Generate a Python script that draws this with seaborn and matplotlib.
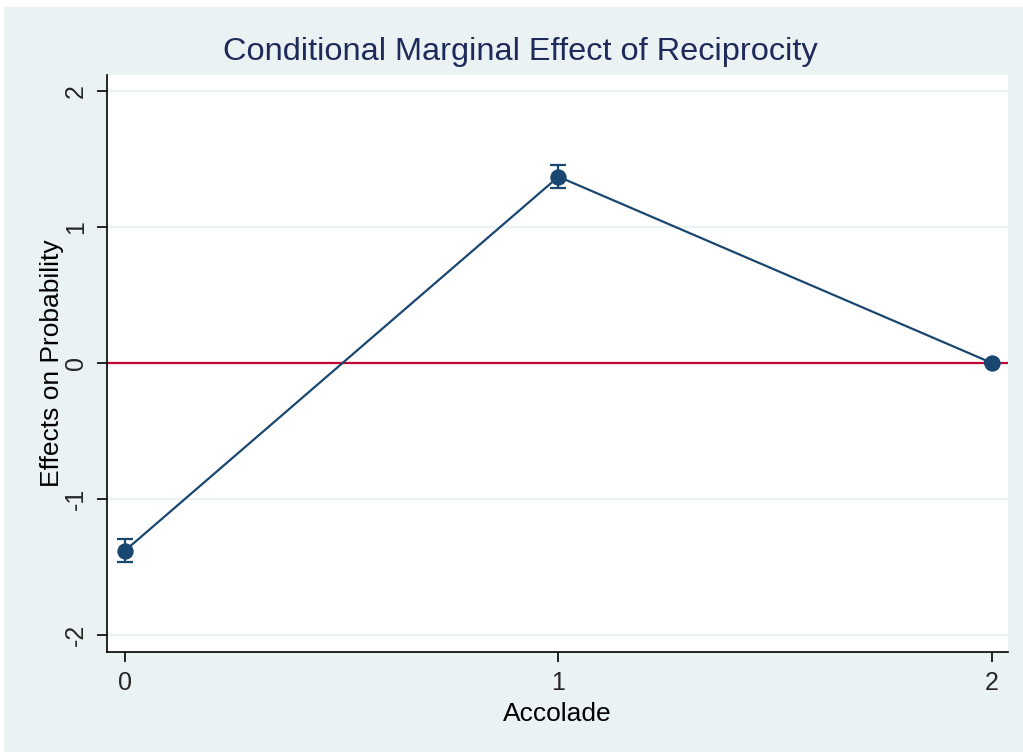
import matplotlib
matplotlib.use("Agg")
import matplotlib.pyplot as plt
import seaborn as sns
import numpy as np
import pandas as pd

accolade = [0, 1, 2]
effect = [-1.38, 1.37, 0.0]
ci_low = [-1.465, 1.285, -0.005]
ci_high = [-1.295, 1.455, 0.005]
yticks = [-2, -1, 0, 1, 2]
xticks = [0, 1, 2]

sns.set_theme(style="white")
plt.rcParams['font.family'] = ['Liberation Sans', 'DejaVu Sans']

navy = "#1A476F"
bg = "#EAF2F3"

fig = plt.figure(figsize=(10.23, 7.52), dpi=100, facecolor="white")
fig.patches.append(matplotlib.patches.Rectangle((4/1023, 0), 1 - 4/1023, 1 - 7/752,
                   transform=fig.transFigure, facecolor=bg, edgecolor="none", zorder=-10))
ax = fig.add_axes([107/1023, 1 - 652/752, (1008-107)/1023, (652-75)/752])
ax.set_facecolor("white")

df = pd.DataFrame({"Accolade": accolade, "Effect": effect})

for y in yticks:
    ax.axhline(y, color=bg, lw=1.6, zorder=0)
ax.axhline(0, color="#C10534", lw=1.6, zorder=1)

sns.lineplot(data=df, x="Accolade", y="Effect", ax=ax, color=navy, lw=1.6,
             marker="o", markersize=11, markeredgecolor=navy, zorder=3)
err = np.array([np.array(effect) - np.array(ci_low), np.array(ci_high) - np.array(effect)])
ax.errorbar(accolade, effect, yerr=err, fmt="none", ecolor=navy, elinewidth=1.6,
            capsize=6, capthick=1.6, zorder=2)

ax.set_xlim(-0.0415, 2.037)
ax.set_ylim(-2.125, 2.118)
ax.set_xticks(xticks)
ax.set_yticks(yticks)
ax.set_xticklabels([str(v) for v in xticks], fontsize=18)
ax.set_yticklabels([str(v) for v in yticks], fontsize=18, rotation=90, va="center")
ax.tick_params(axis="both", which="major", length=7.5, width=1.2, color="black",
               direction="out", left=True, bottom=True, pad=6)
for s in ["top", "right"]:
    ax.spines[s].set_visible(False)
for s in ["left", "bottom"]:
    ax.spines[s].set_color("black")
    ax.spines[s].set_linewidth(1.2)

ax.set_xlabel("Accolade", fontsize=19, labelpad=5, color="black")
ax.set_ylabel("Effects on Probability", fontsize=19, labelpad=0, color="black")
fig.text(520/1023, 1 - 52/752, "Conditional Marginal Effect of Reciprocity", fontsize=23.4,
         color="#1E2A5A", ha="center", va="center")

fig.savefig("out.png", dpi=100, facecolor="white")
